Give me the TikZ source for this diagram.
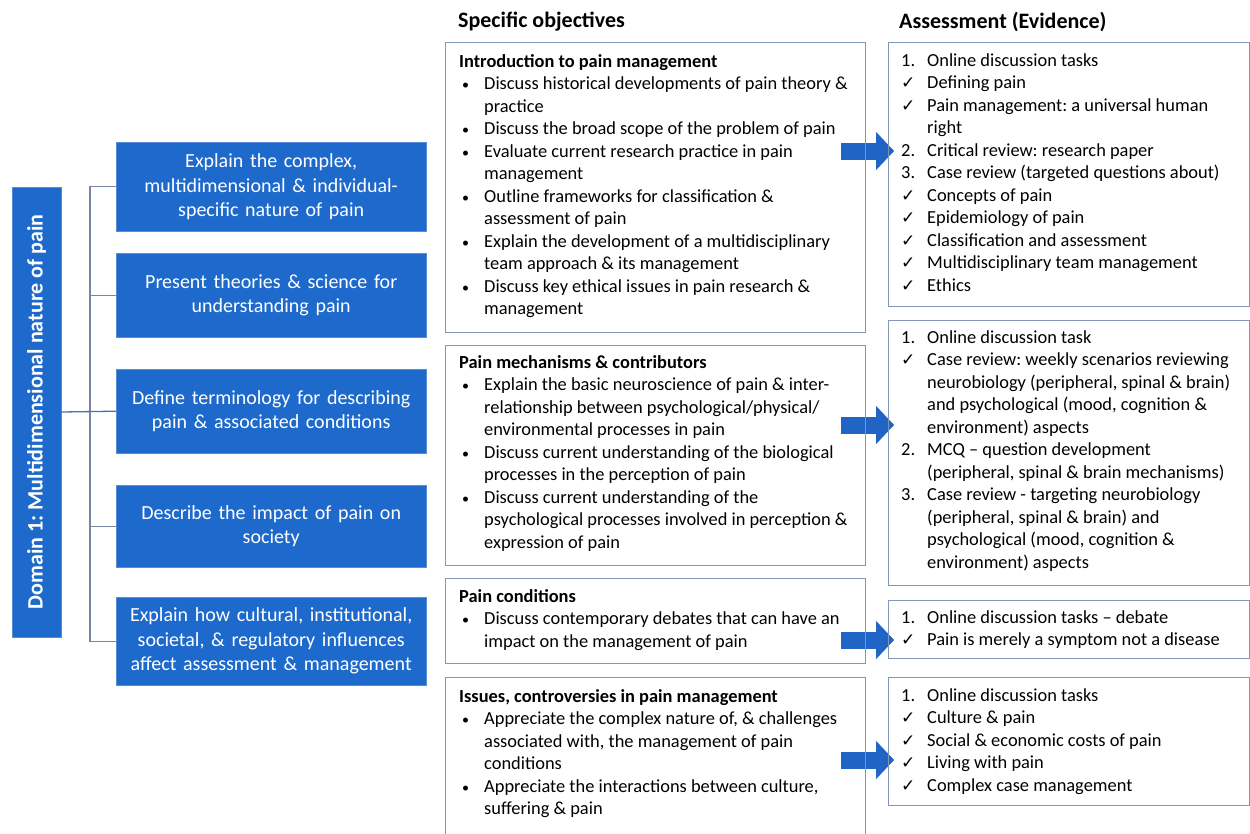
\documentclass[tikz,border=0pt]{standalone}
\usepackage{fontspec}
\setmainfont{Carlito}
\newfontfamily\symf{DejaVu Sans}
\usetikzlibrary{arrows.meta,backgrounds,calc}
\frenchspacing
\definecolor{boxblue}{RGB}{30,106,204}
\definecolor{boxedge}{RGB}{88,140,214}
\definecolor{arrowblue}{RGB}{32,100,198}
\definecolor{frameblue}{RGB}{130,150,184}
\definecolor{bracketgray}{RGB}{120,134,160}
\definecolor{domline}{RGB}{70,110,196}
\newcommand\bl{\makebox[25pt][l]{\hspace*{3pt}{\fontsize{14}{14}\selectfont\textbullet}}}
\newcommand\nm[1]{\makebox[26pt][l]{#1.}}
\newcommand\ckm{\makebox[26pt][l]{\hspace*{0pt}{\symf\fontsize{17}{17}\selectfont ✓}}}
\tikzset{
  bluebox/.style={draw=boxedge, fill=boxblue, text=white, minimum width=310pt,
    text width=296pt, align=center, inner sep=0pt, anchor=north west,
    font=\fontsize{20}{24.5}\selectfont},
  wbox/.style={draw=frameblue, line width=1.3pt, anchor=north west, inner sep=0pt},
  txt/.style={anchor=base west, inner sep=0pt, font=\fontsize{18.4}{22.5}\selectfont},
  header/.style={anchor=west, inner sep=0pt, font=\fontsize{22}{26}\selectfont\bfseries},
  bracketline/.style={draw=bracketgray, line width=1.3pt},
  bigarrow/.style={draw=arrowblue, line width=17pt, -{Triangle[length=18pt,width=38pt,line width=0.1pt]}}
}
\begin{document}
\begin{tikzpicture}[x=1pt,y=-1pt]
\useasboundingbox (0,0) rectangle (1250,833);
\clip (0,0) rectangle (1250,833);

% domain bar
\node[draw=boxedge, fill=boxblue, text=white, rotate=90, minimum width=450pt, minimum height=49pt,
  inner sep=0pt, font=\fontsize{22}{26}\selectfont\bfseries] (dom) at (36.5,412) {Domain 1: Multidimensional nature of pain};

% blue goal boxes
\node[bluebox, minimum height=89pt] (b1) at (116,142) {Explain the complex,\\ multidimensional \& individual-\\ specific nature of pain};
\node[bluebox, minimum height=84pt] (b2) at (116,253) {Present theories \& science for\\ understanding pain};
\node[bluebox, minimum height=84pt] (b3) at (116,369) {Define terminology for describing\\ pain \& associated conditions};
\node[bluebox, minimum height=82pt] (b4) at (116,485) {Describe the impact of pain on\\ society};
\node[bluebox, minimum height=88pt] (b5) at (116,597) {Explain how cultural, institutional,\\ societal, \& regulatory influences\\ affect assessment \& management};

% bracket
\draw[bracketline] (b1.west) -- ++(-26,0) |- (b5.west);
\draw[bracketline] (b2.west) -- ++(-26,0);
\draw[bracketline] (b4.west) -- ++(-26,0);
\draw[draw=domline, line width=1.3pt] (dom.south) -- (b3.west);

% headers
\node[header] (h1) at (458,22) {Specific objectives};
\node[header] (h2) at (899,22) {Assessment (Evidence)};

% objective boxes
\node[wbox, minimum width=420pt, minimum height=290pt] (A) at (445,42) {};
\node[wbox, minimum width=420pt, minimum height=220pt] (B) at (445,345) {};
\node[wbox, minimum width=420pt, minimum height=85pt] (C) at (445,578) {};
\node[wbox, minimum width=420pt, minimum height=170pt] (D) at (445,677) {};

% assessment boxes
\node[wbox, minimum width=361pt, minimum height=264pt] (R1) at (888,42) {};
\node[wbox, minimum width=361pt, minimum height=265pt] (R2) at (888,320) {};
\node[wbox, minimum width=361pt, minimum height=58pt] (R3) at (888,600) {};
\node[wbox, minimum width=361pt, minimum height=128pt] (R4) at (888,677) {};

% objective texts
\node[txt] (tA) at (459,67) {\begin{tabular}[t]{@{}l@{}l@{}}
\multicolumn{2}{@{}l@{}}{\bfseries Introduction to pain management}\\
\bl & Discuss historical developments of pain theory \&\\
 & practice\\
\bl & Discuss the broad scope of the problem of pain\\
\bl & Evaluate current research practice in pain\\
 & management\\
\bl & Outline frameworks for classification \&\\
 & assessment of pain\\
\bl & Explain the development of a multidisciplinary\\
 & team approach \& its management\\
\bl & Discuss key ethical issues in pain research \&\\
 & management
\end{tabular}};

\node[txt] (tB) at (459,368) {\begin{tabular}[t]{@{}l@{}l@{}}
\multicolumn{2}{@{}l@{}}{\bfseries Pain mechanisms \& contributors}\\
\bl & Explain the basic neuroscience of pain \& inter-\\
 & relationship between psychological/physical/\\
 & environmental processes in pain\\
\bl & Discuss current understanding of the biological\\
 & processes in the perception of pain\\
\bl & Discuss current understanding of the\\
 & psychological processes involved in perception \&\\
 & expression of pain
\end{tabular}};

\node[txt] (tC) at (459,602) {\begin{tabular}[t]{@{}l@{}l@{}}
\multicolumn{2}{@{}l@{}}{\bfseries Pain conditions}\\
\bl & Discuss contemporary debates that can have an\\
 & impact on the management of pain
\end{tabular}};

\node[txt] (tD) at (459,702) {\begin{tabular}[t]{@{}l@{}l@{}}
\multicolumn{2}{@{}l@{}}{\bfseries Issues, controversies in pain management}\\
\bl & Appreciate the complex nature of, \& challenges\\
 & associated with, the management of pain\\
 & conditions\\
\bl & Appreciate the interactions between culture,\\
 & suffering \& pain
\end{tabular}};

% assessment texts
\node[txt] (tR1) at (901,66) {\begin{tabular}[t]{@{}l@{}l@{}}
\nm{1} & Online discussion tasks\\
\ckm & Defining pain\\
\ckm & Pain management: a universal human\\
 & right\\
\nm{2} & Critical review: research paper\\
\nm{3} & Case review (targeted questions about)\\
\ckm & Concepts of pain\\
\ckm & Epidemiology of pain\\
\ckm & Classification and assessment\\
\ckm & Multidisciplinary team management\\
\ckm & Ethics
\end{tabular}};

\node[txt] (tR2) at (901,343) {\begin{tabular}[t]{@{}l@{}l@{}}
\nm{1} & Online discussion task\\
\ckm & Case review: weekly scenarios reviewing\\
 & neurobiology (peripheral, spinal \& brain)\\
 & and psychological (mood, cognition \&\\
 & environment) aspects\\
\nm{2} & MCQ -- question development\\
 & (peripheral, spinal \& brain mechanisms)\\
\nm{3} & Case review - targeting neurobiology\\
 & (peripheral, spinal \& brain) and\\
 & psychological (mood, cognition \&\\
 & environment) aspects
\end{tabular}};

\node[txt] (tR3) at (901,623) {\begin{tabular}[t]{@{}l@{}l@{}}
\nm{1} & Online discussion tasks -- debate\\
\ckm & Pain is merely a symptom not a disease
\end{tabular}};

\node[txt] (tR4) at (901,701) {\begin{tabular}[t]{@{}l@{}l@{}}
\nm{1} & Online discussion tasks\\
\ckm & Culture \& pain\\
\ckm & Social \& economic costs of pain\\
\ckm & Living with pain\\
\ckm & Complex case management
\end{tabular}};

% arrow end points
\coordinate (a1s) at ($(A.north east)+(-25,109)$);
\coordinate (a1e) at ($(R1.north west)+(6,109)$);
\coordinate (a2s) at ($(B.north east)+(-25,80)$);
\coordinate (a2e) at ($(R2.north west)+(6,105)$);
\coordinate (a3s) at ($(C.north east)+(-25,62)$);
\coordinate (a3e) at ($(R3.north west)+(6,40)$);
\coordinate (a4s) at ($(D.north east)+(-25,83)$);
\coordinate (a4e) at ($(R4.north west)+(6,83)$);

\begin{pgfonlayer}{background}
\fill[white] (0,0) rectangle (1250,833);
\draw[bigarrow] (a1s) -- (a1e);
\draw[bigarrow] (a2s) -- (a2e);
\draw[bigarrow] (a3s) -- (a3e);
\draw[bigarrow] (a4s) -- (a4e);
\end{pgfonlayer}
\end{tikzpicture}
\end{document}
